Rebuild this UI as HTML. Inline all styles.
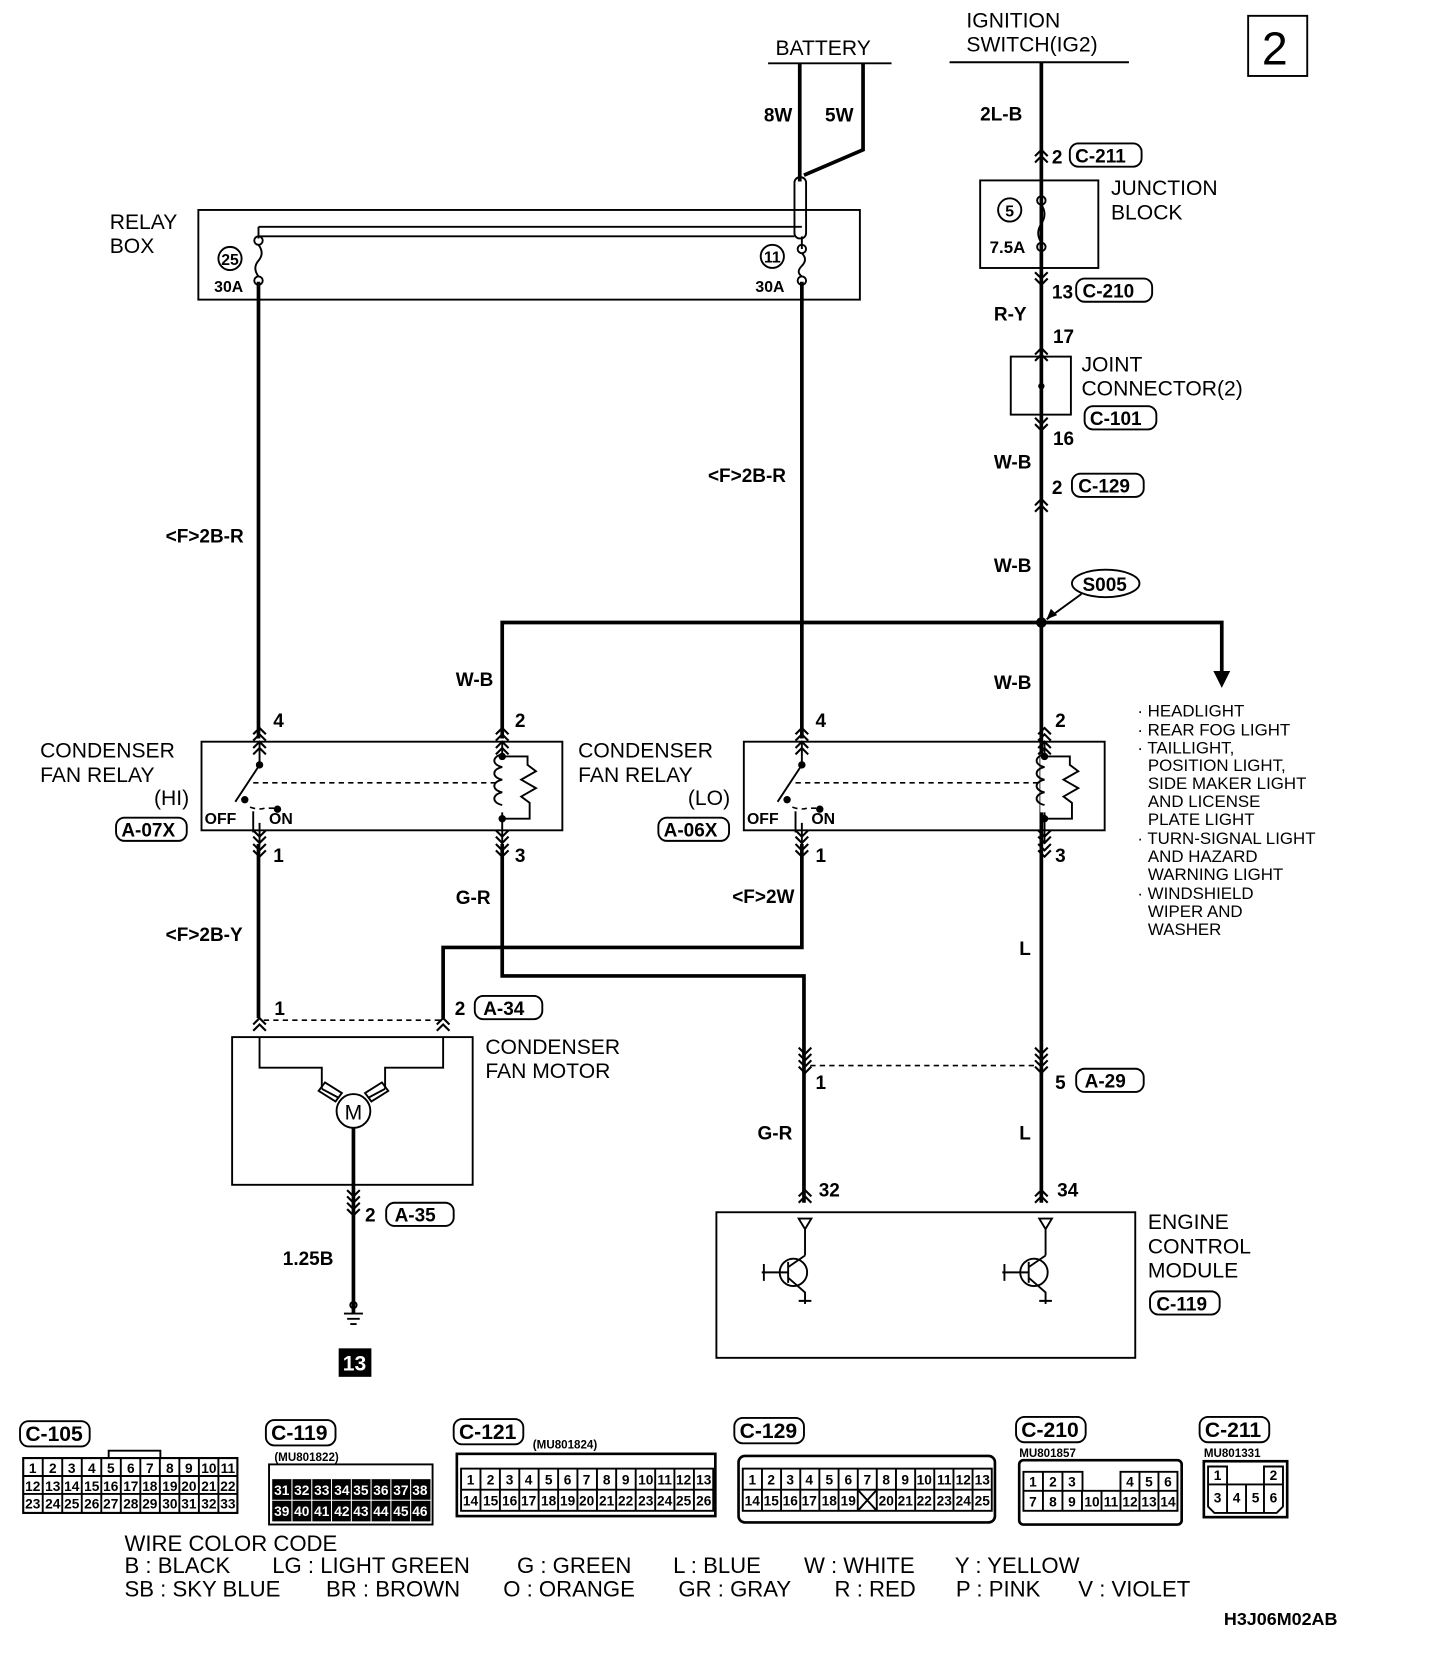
<!DOCTYPE html>
<html><head><meta charset="utf-8"><style>
html,body{margin:0;padding:0;background:#fff;}
svg{display:block;}
text{font-family:"Liberation Sans",sans-serif;fill:#000;}
.l{font-size:20px;}
.s{font-size:16px;}
.c{font-size:18px;font-family:"Liberation Sans Narrow","Liberation Sans",sans-serif;font-weight:bold;}
.n{font-size:12px;font-weight:bold;text-anchor:middle;}
.w{stroke:#000;stroke-width:3.5;fill:none;}
.t{stroke:#000;stroke-width:1.8;fill:none;}
.d{stroke:#000;stroke-width:1.5;fill:none;stroke-dasharray:5 4;}
.wt text{fill:#fff;}
</style></head><body>
<svg width="1456" height="1660" viewBox="0 0 1380 1573.4" preserveAspectRatio="none" xmlns="http://www.w3.org/2000/svg">
<defs>
<path id="cu" d="M-6,6 L0,0 L6,6 M-6,12 L0,6 L6,12" stroke="#000" stroke-width="2" fill="none"/>
<path id="cd" d="M-6,-6 L0,0 L6,-6 M-6,-12 L0,-6 L6,-12" stroke="#000" stroke-width="2" fill="none"/>
</defs>
<rect x="1183" y="15" width="56" height="57" class="t" stroke-width="2.5"/>
<text x="1196" y="61" style="font-size:44px">2</text>
<text x="735" y="52" class="l">BATTERY</text>
<line x1="728" y1="60" x2="845" y2="60" class="t" stroke-width="2.5"/>
<text x="724" y="115" class="c">8W</text><text x="782" y="115" class="c">5W</text>
<path d="M758,60 V172 M818,60 V142 L762,166" class="w"/>
<rect x="753" y="168" width="11" height="58" rx="5" class="t"/>
<text x="104" y="217" class="l">RELAY</text><text x="104" y="240" class="l">BOX</text>
<rect x="188" y="199" width="627" height="85" class="t"/>
<path d="M245,215 H760 M245,224 H753" class="t"/>
<path d="M245,215 V226 M760,224 V236" class="t"/>
<circle cx="245" cy="228" r="4" class="t"/><circle cx="245" cy="266" r="4" class="t"/>
<path d="M245,232 q6,8 0,15 q-6,7 0,15" class="t"/>
<circle cx="760" cy="236" r="4" class="t"/><circle cx="760" cy="266" r="4" class="t"/>
<path d="M760,240 q6,6 0,12 q-6,6 0,10" class="t"/>
<circle cx="218" cy="245" r="11" class="t"/><text x="218" y="251" class="n" style="font-size:15px">25</text>
<circle cx="732" cy="243" r="11" class="t"/><text x="732" y="249" class="n" style="font-size:15px">11</text>
<text x="203" y="277" class="c" style="font-size:15px">30A</text><text x="716" y="277" class="c" style="font-size:15px">30A</text>
<text x="916" y="26" class="l">IGNITION</text><text x="916" y="49" class="l">SWITCH(IG2)</text>
<line x1="900" y1="59" x2="1070" y2="59" class="t" stroke-width="2.5"/>
<path d="M987,59 V1140" class="w"/>
<text x="929" y="114" class="c">2L-B</text>
<use href="#cu" x="987" y="142"/>
<text x="997" y="155" class="c">2</text><rect x="1014" y="136" width="68" height="22" rx="8" class="t"/><text x="1019" y="154" class="c">C-211</text>
<rect x="929" y="171" width="112" height="83" class="t"/>
<circle cx="987" cy="190" r="4" class="t"/><circle cx="987" cy="234" r="4" class="t"/>
<path d="M987,194 q6,9 0,18 q-6,9 0,18" class="t"/>
<circle cx="957" cy="199" r="11" class="t"/><text x="957" y="205" class="n" style="font-size:15px">5</text>
<text x="938" y="240" class="c" style="font-size:16px">7.5A</text>
<text x="1053" y="185" class="l">JUNCTION</text><text x="1053" y="208" class="l">BLOCK</text>
<use href="#cd" x="987" y="270"/>
<text x="997" y="283" class="c">13</text><rect x="1020" y="264" width="72" height="22" rx="8" class="t"/><text x="1026" y="282" class="c">C-210</text>
<text x="942" y="304" class="c">R-Y</text>
<text x="998" y="325" class="c">17</text><use href="#cu" x="987" y="330"/>
<rect x="958" y="338" width="57" height="55" class="t"/><circle cx="987" cy="366" r="3" fill="#000"/>
<text x="1025" y="352" class="l">JOINT</text><text x="1025" y="375" class="l">CONNECTOR(2)</text>
<rect x="1028" y="385" width="68" height="22" rx="8" class="t"/><text x="1033" y="403" class="c">C-101</text>
<use href="#cd" x="987" y="408"/><text x="998" y="422" class="c">16</text>
<text x="942" y="444" class="c">W-B</text>
<text x="997" y="468" class="c">2</text><rect x="1016" y="449" width="68" height="22" rx="8" class="t"/><text x="1022" y="467" class="c">C-129</text>
<use href="#cu" x="987" y="473"/>
<text x="942" y="542" class="c">W-B</text>
<ellipse cx="1048" cy="553" rx="32" ry="13" class="t"/><text x="1026" y="560" class="c">S005</text>
<path d="M1025,563 L992,587" class="t"/><path d="M992,587 l4,-10 l6,6 z" fill="#000"/>
<circle cx="987" cy="590" r="5" fill="#000"/>
<path d="M476,700 V590 H1158 V640" class="w"/>
<path d="M1150,636 L1158,652 L1166,636 Z" fill="#000"/>
<text x="432" y="650" class="c">W-B</text><text x="942" y="653" class="c">W-B</text>
<g class="s">
<text x="1078" y="679">· HEADLIGHT</text>
<text x="1078" y="697">· REAR FOG LIGHT</text>
<text x="1078" y="714">· TAILLIGHT,</text>
<text x="1088" y="731">POSITION LIGHT,</text>
<text x="1088" y="748">SIDE MAKER LIGHT</text>
<text x="1088" y="765">AND LICENSE</text>
<text x="1088" y="782">PLATE LIGHT</text>
<text x="1078" y="800">· TURN-SIGNAL LIGHT</text>
<text x="1088" y="817">AND HAZARD</text>
<text x="1088" y="834">WARNING LIGHT</text>
<text x="1078" y="852">· WINDSHIELD</text>
<text x="1088" y="869">WIPER AND</text>
<text x="1088" y="886">WASHER</text>
</g>
<path d="M245,267 V700" class="w"/><path d="M760,267 V700" class="w"/>
<text x="157" y="514" class="c">&lt;F&gt;2B-R</text><text x="671" y="457" class="c">&lt;F&gt;2B-R</text>
<text x="38" y="718" class="l">CONDENSER</text><text x="38" y="741" class="l">FAN RELAY</text><text x="146" y="763" class="l">(HI)</text>
<rect x="110" y="775" width="67" height="22" rx="8" class="t"/><text x="115" y="793" class="c">A-07X</text>
<text x="548" y="718" class="l">CONDENSER</text><text x="548" y="741" class="l">FAN RELAY</text><text x="652" y="763" class="l">(LO)</text>
<rect x="624" y="775" width="67" height="22" rx="8" class="t"/><text x="629" y="793" class="c">A-06X</text>
<g id="relay">
<rect x="191" y="703" width="342" height="84" class="t"/>
<use href="#cu" x="246" y="690"/><use href="#cu" x="246" y="703"/>
<use href="#cu" x="476" y="690"/><use href="#cu" x="476" y="703"/>
<use href="#cd" x="246" y="799"/><use href="#cd" x="246" y="812"/>
<use href="#cd" x="476" y="799"/><use href="#cd" x="476" y="812"/>
<path d="M246,703 V724 M223,760 L246,725 M246,780 V800 M476,703 V800" class="t"/>
<circle cx="246" cy="725" r="3.5" fill="#000"/>
<circle cx="232" cy="758" r="3.5" fill="#000"/><circle cx="263" cy="767" r="3.5" fill="#000"/>
<path d="M237,765 q8,3 14,1 h10" class="d" stroke-dasharray="3 2"/>
<path d="M240,789 V769" class="t"/>
<path d="M240,742 H470" class="d"/>
<rect x="472" y="715" width="9" height="55" fill="#fff"/>
<path d="M476,715 c-10,2 -10,10 0,12 c-10,2 -10,10 0,12 c-10,2 -10,10 0,12 c-10,2 -10,10 0,12" class="t"/>
<path d="M476,717 H500 V725 l8,6 -14,8 14,8 -14,8 8,6 V776 H476" class="t"/>
<circle cx="476" cy="717" r="3.5" fill="#000"/><circle cx="476" cy="776" r="3.5" fill="#000"/>
<text x="194" y="781" class="c" style="font-size:15px">OFF</text><text x="255" y="781" class="c" style="font-size:15px">ON</text>
</g>
<use href="#relay" x="514" y="0"/>
<g class="c">
<text x="259" y="689">4</text><text x="488" y="689">2</text><text x="773" y="689">4</text><text x="1000" y="689">2</text>
<text x="259" y="817">1</text><text x="488" y="817">3</text><text x="773" y="817">1</text><text x="1000" y="817">3</text>
</g>
<path d="M245,800 V965 M476,800 V925 H762 V1140 M760,800 V898 H420 V965" class="w"/>
<text x="157" y="892" class="c">&lt;F&gt;2B-Y</text><text x="432" y="857" class="c">G-R</text>
<text x="694" y="856" class="c">&lt;F&gt;2W</text><text x="966" y="905" class="c">L</text>
<use href="#cu" x="246" y="965"/><use href="#cu" x="420" y="965"/>
<path d="M250,967 H418" class="d"/>
<text x="260" y="962" class="c">1</text>
<text x="431" y="962" class="c">2</text><rect x="450" y="944" width="64" height="22" rx="8" class="t"/><text x="458" y="962" class="c">A-34</text>
<rect x="220" y="983" width="228" height="140" class="t"/>
<path d="M246,983 V1012 H305 V1032 M420,983 V1012 H365 V1032" class="t"/>
<path d="M305,1032 L320,1040 M365,1032 L350,1040 M308,1026 l16,10 -6,8 -16,-10 z M362,1026 l-16,10 6,8 16,-10 z" class="t"/>
<circle cx="335" cy="1053" r="16" class="t" stroke-width="2"/><text x="335" y="1061" class="n" style="font-size:20px;font-weight:normal">M</text>
<text x="460" y="999" class="l">CONDENSER</text><text x="460" y="1022" class="l">FAN MOTOR</text>
<path d="M335,1069 V1245" class="w"/>
<use href="#cd" x="335" y="1140"/><use href="#cd" x="335" y="1152"/>
<text x="346" y="1158" class="c">2</text><rect x="366" y="1140" width="64" height="22" rx="8" class="t"/><text x="374" y="1158" class="c">A-35</text>
<text x="268" y="1199" class="c">1.25B</text>
<path d="M326,1245 H344 M329,1250 H341 M332,1255 H338" class="t"/>
<circle cx="335" cy="1237" r="3" class="t"/>
<rect x="321" y="1278" width="31" height="27" fill="#000"/><text x="336" y="1299" class="n" style="fill:#fff;font-size:20px">13</text>
<use href="#cd" x="763" y="1005"/><use href="#cd" x="763" y="1017"/>
<use href="#cd" x="987" y="1005"/><use href="#cd" x="987" y="1017"/>
<path d="M768,1010 H982" class="d"/>
<text x="773" y="1032" class="c">1</text>
<text x="1000" y="1032" class="c">5</text><rect x="1020" y="1013" width="64" height="22" rx="8" class="t"/><text x="1028" y="1031" class="c">A-29</text>
<text x="718" y="1080" class="c">G-R</text><text x="966" y="1080" class="c">L</text>
<use href="#cu" x="763" y="1128"/><use href="#cu" x="987" y="1128"/>
<text x="776" y="1134" class="c">32</text><text x="1002" y="1134" class="c">34</text>
<rect x="679" y="1149" width="397" height="138" class="t"/>
<text x="1088" y="1165" class="l">ENGINE</text><text x="1088" y="1188" class="l">CONTROL</text><text x="1088" y="1211" class="l">MODULE</text>
<rect x="1090" y="1224" width="66" height="22" rx="8" class="t"/><text x="1096" y="1242" class="c">C-119</text>
<g id="tr">
<path d="M757,1155 h12 l-6,10 z M763,1165 V1190" class="t"/>
<circle cx="752" cy="1206" r="13" class="t"/>
<path d="M747,1196 V1216 M747,1206 H722 M724,1198 V1214 M747,1201 L763,1190 M747,1211 L763,1225 V1236 M757,1233 H769" class="t"/>
</g>
<use href="#tr" x="228" y="0"/>
<g class="c" style="font-size:20px">
<rect x="19" y="1347" width="66" height="24" rx="8" class="t" stroke-width="2.5"/><text x="24" y="1366">C-105</text>
<rect x="252" y="1346" width="66" height="24" rx="8" class="t" stroke-width="2.5"/><text x="257" y="1365">C-119</text>
<rect x="430" y="1345" width="66" height="24" rx="8" class="t" stroke-width="2.5"/><text x="435" y="1364">C-121</text>
<rect x="696" y="1344" width="66" height="24" rx="8" class="t" stroke-width="2.5"/><text x="701" y="1363">C-129</text>
<rect x="963" y="1343" width="66" height="24" rx="8" class="t" stroke-width="2.5"/><text x="968" y="1362">C-210</text>
<rect x="1137" y="1343" width="66" height="24" rx="8" class="t" stroke-width="2.5"/><text x="1142" y="1362">C-211</text>
</g>
<g class="c" style="font-size:11px"><text x="260" y="1385">(MU801822)</text><text x="505" y="1373">(MU801824)</text><text x="966" y="1381">MU801857</text><text x="1141" y="1381">MU801331</text></g>
<g class="t">
<rect x="22" y="1382" width="203" height="52" stroke-width="2"/>
<path d="M22,1399 H225 M22,1416 H225 M40.5,1382 V1434 M59,1382 V1434 M77.5,1382 V1434 M96,1382 V1434 M114.5,1382 V1434 M133,1382 V1434 M151.5,1382 V1434 M170,1382 V1434 M188.5,1382 V1434 M207,1382 V1434"/>
<path d="M103,1382 V1375 H152 V1382"/>
</g>
<g class="n" style="font-size:13px">
<text x="31" y="1396">1</text><text x="50" y="1396">2</text><text x="68" y="1396">3</text><text x="87" y="1396">4</text><text x="105" y="1396">5</text><text x="124" y="1396">6</text><text x="142" y="1396">7</text><text x="161" y="1396">8</text><text x="179" y="1396">9</text><text x="198" y="1396">10</text><text x="216" y="1396">11</text>
<text x="31" y="1413">12</text><text x="50" y="1413">13</text><text x="68" y="1413">14</text><text x="87" y="1413">15</text><text x="105" y="1413">16</text><text x="124" y="1413">17</text><text x="142" y="1413">18</text><text x="161" y="1413">19</text><text x="179" y="1413">20</text><text x="198" y="1413">21</text><text x="216" y="1413">22</text>
<text x="31" y="1430">23</text><text x="50" y="1430">24</text><text x="68" y="1430">25</text><text x="87" y="1430">26</text><text x="105" y="1430">27</text><text x="124" y="1430">28</text><text x="142" y="1430">29</text><text x="161" y="1430">30</text><text x="179" y="1430">31</text><text x="198" y="1430">32</text><text x="216" y="1430">33</text>
</g>
<rect x="255" y="1388" width="155" height="57" class="t" stroke-width="2.5"/>
<rect x="258" y="1402" width="150" height="40" fill="#000"/>
<path d="M258,1422 H408 M276.7,1402 V1442 M295.5,1402 V1442 M314.2,1402 V1442 M333,1402 V1442 M351.7,1402 V1442 M370.5,1402 V1442 M389.2,1402 V1442" style="stroke:#fff;stroke-width:1;fill:none"/>
<g class="n wt" style="font-size:13px">
<text x="267" y="1417">31</text><text x="286" y="1417">32</text><text x="305" y="1417">33</text><text x="324" y="1417">34</text><text x="342" y="1417">35</text><text x="361" y="1417">36</text><text x="380" y="1417">37</text><text x="398" y="1417">38</text>
<text x="267" y="1437">39</text><text x="286" y="1437">40</text><text x="305" y="1437">41</text><text x="324" y="1437">42</text><text x="342" y="1437">43</text><text x="361" y="1437">44</text><text x="380" y="1437">45</text><text x="398" y="1437">46</text>
</g>
<g class="t"><rect x="433" y="1378" width="245" height="59" stroke-width="2.5"/>
<rect x="437" y="1392" width="239" height="40"/>
<path d="M437,1412 H676 M455.4,1392 V1432 M473.8,1392 V1432 M492.2,1392 V1432 M510.5,1392 V1432 M529,1392 V1432 M547.3,1392 V1432 M565.8,1392 V1432 M584,1392 V1432 M602.5,1392 V1432 M621,1392 V1432 M639.2,1392 V1432 M657.7,1392 V1432"/></g>
<g class="n" style="font-size:13px">
<text x="446" y="1407">1</text><text x="465" y="1407">2</text><text x="483" y="1407">3</text><text x="501" y="1407">4</text><text x="520" y="1407">5</text><text x="538" y="1407">6</text><text x="556" y="1407">7</text><text x="575" y="1407">8</text><text x="593" y="1407">9</text><text x="612" y="1407">10</text><text x="630" y="1407">11</text><text x="648" y="1407">12</text><text x="667" y="1407">13</text>
<text x="446" y="1427">14</text><text x="465" y="1427">15</text><text x="483" y="1427">16</text><text x="501" y="1427">17</text><text x="520" y="1427">18</text><text x="538" y="1427">19</text><text x="556" y="1427">20</text><text x="575" y="1427">21</text><text x="593" y="1427">22</text><text x="612" y="1427">23</text><text x="630" y="1427">24</text><text x="648" y="1427">25</text><text x="667" y="1427">26</text>
</g>
<g class="t"><rect x="700" y="1380" width="243" height="63" rx="6" stroke-width="2.5"/>
<rect x="704" y="1392" width="236" height="40"/>
<path d="M704,1412 H940 M722.2,1392 V1432 M740.3,1392 V1432 M758.5,1392 V1432 M776.6,1392 V1432 M794.8,1392 V1432 M813,1392 V1432 M831,1392 V1432 M849.2,1392 V1432 M867.4,1392 V1432 M885.5,1392 V1432 M903.7,1392 V1432 M921.8,1392 V1432 M813,1412 L831,1432 M831,1412 L813,1432"/></g>
<g class="n" style="font-size:13px">
<text x="713" y="1407">1</text><text x="731" y="1407">2</text><text x="749" y="1407">3</text><text x="767" y="1407">4</text><text x="786" y="1407">5</text><text x="804" y="1407">6</text><text x="822" y="1407">7</text><text x="840" y="1407">8</text><text x="858" y="1407">9</text><text x="876" y="1407">10</text><text x="895" y="1407">11</text><text x="913" y="1407">12</text><text x="931" y="1407">13</text>
<text x="713" y="1427">14</text><text x="731" y="1427">15</text><text x="749" y="1427">16</text><text x="767" y="1427">17</text><text x="786" y="1427">18</text><text x="804" y="1427">19</text><text x="840" y="1427">20</text><text x="858" y="1427">21</text><text x="876" y="1427">22</text><text x="895" y="1427">23</text><text x="913" y="1427">24</text><text x="931" y="1427">25</text>
</g>
<g class="t"><rect x="966" y="1384" width="154" height="61" rx="4" stroke-width="2.5"/>
<path d="M970,1395 H1026 V1413 H970 Z M1062,1395 H1116 V1413 H1062 Z M970,1413 H1116 V1432 H970 Z M988.5,1395 V1432 M1007,1395 V1432 M1025.5,1413 V1432 M1044,1413 V1432 M1062,1413 V1432 M1080,1395 V1432 M1098,1395 V1432"/></g>
<g class="n" style="font-size:13px">
<text x="979" y="1409">1</text><text x="998" y="1409">2</text><text x="1016" y="1409">3</text><text x="1071" y="1409">4</text><text x="1089" y="1409">5</text><text x="1107" y="1409">6</text>
<text x="979" y="1428">7</text><text x="998" y="1428">8</text><text x="1016" y="1428">9</text><text x="1035" y="1428">10</text><text x="1053" y="1428">11</text><text x="1071" y="1428">12</text><text x="1089" y="1428">13</text><text x="1107" y="1428">14</text>
</g>
<g class="t"><rect x="1141" y="1385" width="79" height="53" stroke-width="2.5"/>
<path d="M1145,1390 H1163 V1407 H1145 Z M1198,1390 H1216 V1407 H1198 Z M1145,1407 H1216 V1428 L1210,1434 H1151 L1145,1428 Z M1163,1407 V1434 M1181,1407 V1434 M1198,1407 V1434"/></g>
<g class="n" style="font-size:13px"><text x="1154" y="1403">1</text><text x="1207" y="1403">2</text><text x="1154" y="1424">3</text><text x="1172" y="1424">4</text><text x="1190" y="1424">5</text><text x="1207" y="1424">6</text></g>
<g class="l" style="font-size:21px">
<text x="118" y="1470">WIRE COLOR CODE</text>
<text x="118" y="1491">B : BLACK</text><text x="258" y="1491">LG : LIGHT GREEN</text><text x="490" y="1491">G : GREEN</text><text x="638" y="1491">L : BLUE</text><text x="762" y="1491">W : WHITE</text><text x="905" y="1491">Y : YELLOW</text>
<text x="118" y="1513">SB : SKY BLUE</text><text x="309" y="1513">BR : BROWN</text><text x="477" y="1513">O : ORANGE</text><text x="643" y="1513">GR : GRAY</text><text x="791" y="1513">R : RED</text><text x="906" y="1513">P : PINK</text><text x="1022" y="1513">V : VIOLET</text>
</g>
<text x="1160" y="1540" class="c" style="font-size:17px">H3J06M02AB</text>
</svg>
</body></html>
